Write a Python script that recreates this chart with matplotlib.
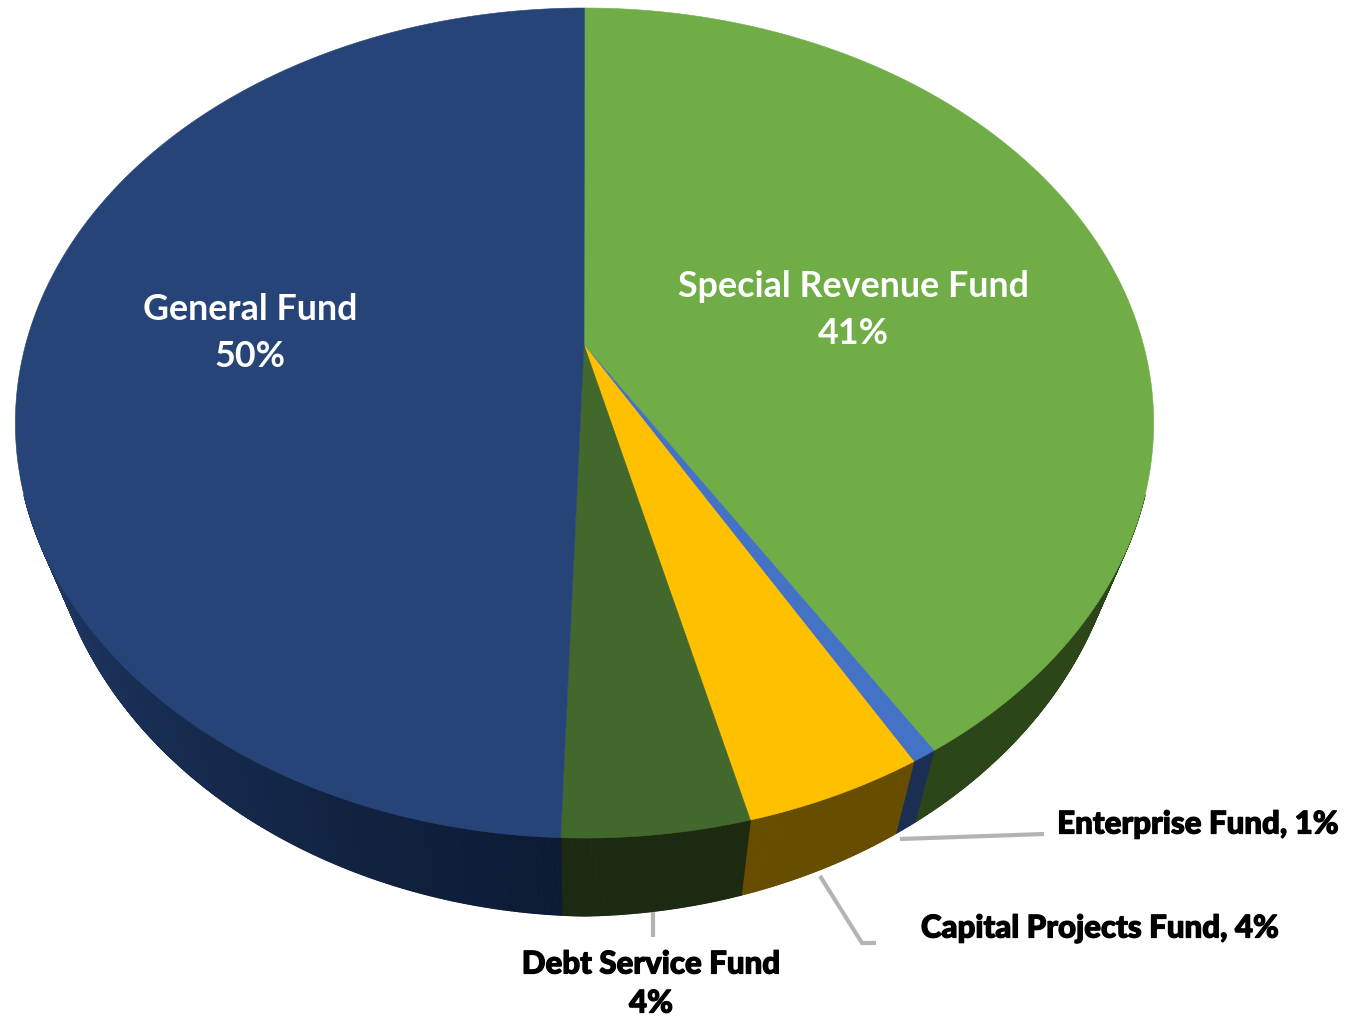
import numpy as np
import matplotlib
matplotlib.use("Agg")
import matplotlib.pyplot as plt
import matplotlib.patheffects as pe
from matplotlib.collections import PolyCollection
from matplotlib.colors import to_rgb

# Data (clockwise from 12 o'clock)
categories = ["Special Revenue Fund", "Enterprise Fund", "Capital Projects Fund", "Debt Service Fund", "General Fund"]
values = [41.2, 0.6, 4.3, 4.45, 49.45]
labels = ["Special Revenue Fund\n41%", "Enterprise Fund, 1%", "Capital Projects Fund, 4%", "Debt Service Fund\n4%", "General Fund\n50%"]
top_colors = ["#70AD47", "#4472C4", "#FFC000", "#43682B", "#264478"]
side_start = ["#2D4619", "#1B2F55", "#664D00", "#1B2A11", "#0C1A33"]
side_end = ["#2D4619", "#1B2F55", "#664D00", "#1B2A11", "#213B69"]

# Perspective geometry of the pie, in figure pixels
CX, CY, A, B, K = 584.5, 345.0, 559.0, 335.5, 0.188
DEPTH, SHRINK, DEPTH_FALL = 78.0, 0.945, 12.0


def rim(theta):
    u, v = np.sin(theta), np.cos(theta)
    w = 1 + K * v
    return CX + A * u / w, (CY - B * v) / w


def lower_rim(theta):
    x, y = rim(theta)
    return CX + SHRINK * (x - CX), y + DEPTH - DEPTH_FALL * np.abs(np.sin(theta))


fig = plt.figure(figsize=(13.46, 10.19), dpi=100, facecolor="white")
ax = fig.add_axes([0, 0, 1, 1])
ax.set_xlim(0, 1346)
ax.set_ylim(1019, 0)
ax.axis("off")

fractions = np.asarray(values) / np.sum(values)
edges = np.concatenate([[0], np.cumsum(fractions)]) * 2 * np.pi

# Leader lines
lead = dict(color="#B4B4B4", lw=3.0, zorder=1, solid_capstyle="butt", solid_joinstyle="miter")
ax.plot([653, 653], [912, 937], **lead)
ax.plot([820, 862, 876], [876, 943, 943], **lead)
ax.plot([900, 1044], [839, 834], **lead)

# Side walls (only the front of the rim can show)
for i in range(len(values)):
    n = max(4, int((edges[i + 1] - edges[i]) * 400))
    th = np.linspace(edges[i], edges[i + 1], n + 1)
    x0, y0 = rim(th)
    x1, y1 = lower_rim(th)
    c0, c1 = np.array(to_rgb(side_start[i])), np.array(to_rgb(side_end[i]))
    # General Fund's wall brightens from the front towards the left
    t = np.clip((th - edges[i]) / (np.pi * 0.40), 0, 1)
    quads, cols = [], []
    for j in range(n):
        if np.cos(th[j]) < -0.35 and np.cos(th[j + 1]) < -0.35:
            quads.append([(x0[j], y0[j]), (x0[j + 1], y0[j + 1]), (x1[j + 1], y1[j + 1]), (x1[j], y1[j])])
            cols.append(tuple(c0 + (c1 - c0) * t[j]))
    ax.add_collection(PolyCollection(quads, facecolors=cols, edgecolors=cols, linewidths=0.8, zorder=2))

# Top face
for i in range(len(values)):
    th = np.linspace(edges[i], edges[i + 1], max(3, int((edges[i + 1] - edges[i]) * 200)))
    x, y = rim(th)
    ax.fill(np.r_[CX - 0.5, x], np.r_[CY, y], facecolor=top_colors[i], edgecolor=top_colors[i], lw=0.4, zorder=3)

font = "Lato"
white = dict(family=font, weight="bold", ha="center", va="center", linespacing=1.53, zorder=5, color="white", fontsize=25.8)
black = dict(family=font, weight="black", ha="center", va="center", linespacing=1.48, zorder=5, color="black", fontsize=22.5,
             path_effects=[pe.withStroke(linewidth=0.9, foreground="black")])
ax.text(853, 310, labels[0], **white)
ax.text(250, 333, labels[4], **white)
ax.text(1198, 824.5, labels[1], **black)
ax.text(1100, 928.5, labels[2], **black)
ax.text(651, 984, labels[3], **black)

fig.savefig("out.png", dpi=100, facecolor="white")
